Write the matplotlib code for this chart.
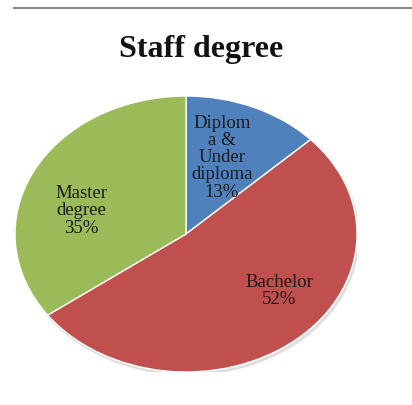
import matplotlib
matplotlib.use("Agg")
import matplotlib.pyplot as plt
from matplotlib.lines import Line2D
from matplotlib.patches import Ellipse

# data
categories = ["Diplom\na &\nUnder\ndiploma", "Bachelor", "Master\ndegree"]
shares = [13, 52, 35]
colors = ["#4F81BD", "#C0504D", "#9BBB59"]

# label anchor points inside the (stretched) pie, axes data coords
label_pos = [(0.21, 0.56), (0.545, -0.405), (-0.61, 0.175)]

plt.rcParams["font.family"] = ["Liberation Serif", "DejaVu Serif"]

fig = plt.figure(figsize=(4.12, 4.06), dpi=100)

# thin grey rule at the top
fig.add_artist(Line2D([14 / 412, 1.0], [1 - 9 / 406, 1 - 9 / 406],
                      transform=fig.transFigure, color="#8c8c8c", lw=1.5))

fig.text(201 / 412, 1 - 49 / 406, "Staff degree", ha="center", va="center",
         fontsize=23, fontweight="bold", color="#111111")

ax = fig.add_axes([15 / 412, (406 - 373) / 406, 342 / 412, 276 / 406])

# soft shadow under the pie
ax.add_patch(Ellipse((0.01, -0.02), 2.0, 2.0, color="#d0d0d0", alpha=0.6, zorder=0))

wedges, _ = ax.pie(shares, colors=colors, startangle=90, counterclock=False,
                   wedgeprops=dict(edgecolor="white", linewidth=1.0))
for w in wedges:
    w.set_zorder(1)

ax.set_aspect("auto")
ax.set_xlim(-1, 1)
ax.set_ylim(-1, 1)
ax.axis("off")

for name, pct, (x, y) in zip(categories, shares, label_pos):
    ax.text(x, y, f"{name}\n{pct}%", ha="center", va="center",
            fontsize=13.5, color="#1a1a1a", linespacing=1.02, zorder=3)

fig.savefig("out.png", dpi=100)
